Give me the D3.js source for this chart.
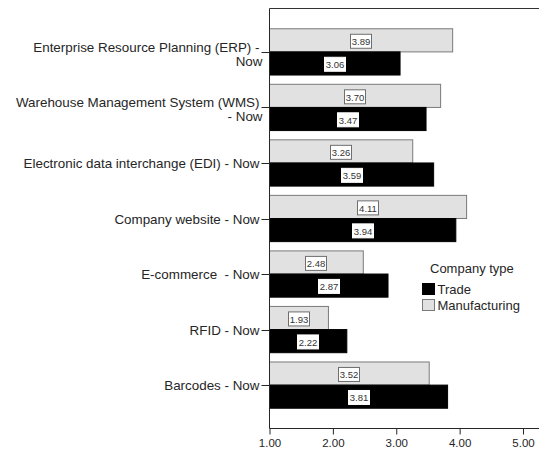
<!DOCTYPE html>
<html>
<head>
<meta charset="utf-8">
<script src="https://cdn.jsdelivr.net/npm/d3@7"></script>
<style>
  html, body { margin: 0; padding: 0; background: #fff; }
  svg { display: block; font-family: "Liberation Sans", Arial, sans-serif; }
  text { white-space: pre; }
</style>
</head>
<body>
<svg id="chart" width="539" height="450"></svg>
<script>
// Mean adoption score per technology, by company type
const categories = [
  ["Enterprise Resource Planning (ERP) -", "Now"],
  ["Warehouse Management System (WMS)", "- Now"],
  ["Electronic data interchange (EDI) - Now"],
  ["Company website - Now"],
  ["E-commerce  - Now"],
  ["RFID - Now"],
  ["Barcodes - Now"]
];
const seriesNames = ["Manufacturing", "Trade"];
const manufacturing = [3.89, 3.70, 3.26, 4.11, 2.48, 1.93, 3.52];
const trade = [3.06, 3.47, 3.59, 3.94, 2.87, 2.22, 3.81];
const xTicks = [1, 2, 3, 4, 5];
const legendOrder = ["Trade", "Manufacturing"];

const fills = { Trade: "#000000", Manufacturing: "#e1e1e1" };
const strokes = { Trade: "#000000", Manufacturing: "#7a7a7a" };
const ink = "#262626";

const svg = d3.select("#chart");
const axisX0 = 269.5;
const plotTop = 8.5, plotBottom = 428.5;

const x = d3.scaleLinear().domain([1, 5]).range([axisX0, 523]);
const y = d3.scaleBand()
  .domain(d3.range(categories.length))
  .range([plotTop, plotBottom])
  .paddingInner(0.167)
  .paddingOuter(0.365);
const ySub = d3.scaleBand().domain(seriesNames).range([0, y.bandwidth()]);

const rows = categories.map((c, i) => ({
  i, label: c,
  values: [
    { series: "Manufacturing", v: manufacturing[i] },
    { series: "Trade", v: trade[i] }
  ]
}));

// top frame line (runs off to the right)
svg.append("line")
  .attr("x1", axisX0).attr("x2", 539)
  .attr("y1", plotTop).attr("y2", plotTop)
  .attr("stroke", "#333").attr("stroke-width", 1);

// bars
const groups = svg.append("g").selectAll("g").data(rows).join("g")
  .attr("transform", d => `translate(0,${y(d.i)})`);

groups.selectAll("rect").data(d => d.values).join("rect")
  .attr("x", x(1))
  .attr("y", d => ySub(d.series))
  .attr("width", d => x(d.v) - x(1))
  .attr("height", ySub.bandwidth())
  .attr("fill", d => fills[d.series])
  .attr("stroke", d => strokes[d.series])
  .attr("stroke-width", 1);

// value labels in boxes
const lab = groups.selectAll("g.lab").data(d => d.values).join("g")
  .attr("class", "lab")
  .attr("transform", d => `translate(${Math.round((x(1) + x(d.v)) / 2)},${Math.round(ySub(d.series) + ySub.bandwidth() / 2 + 1)})`);
lab.append("rect")
  .attr("x", -10.5).attr("y", -7.5).attr("width", 21).attr("height", 14)
  .attr("fill", "#fff")
  .attr("stroke", d => d.series === "Manufacturing" ? "#6e6e6e" : "#fff")
  .attr("stroke-width", 1);
lab.append("text")
  .attr("text-anchor", "middle")
  .attr("dy", "0.35em")
  .attr("font-size", 9.5)
  .attr("fill", "#333")
  .text(d => d.v.toFixed(2));

// y axis
const yAxis = svg.append("g").attr("transform", `translate(${axisX0},0)`);
yAxis.append("line")
  .attr("x1", 0).attr("x2", 0).attr("y1", plotTop).attr("y2", plotBottom)
  .attr("stroke", ink);
const yc = d => Math.round(y(d.i) + y.bandwidth() / 2) + 0.5;
yAxis.selectAll("line.tick").data(rows).join("line")
  .attr("class", "tick")
  .attr("x1", -8).attr("x2", 0)
  .attr("y1", yc).attr("y2", yc)
  .attr("stroke", ink);
const yl = yAxis.selectAll("text").data(rows).join("text")
  .attr("text-anchor", "end")
  .attr("font-size", 13.4)
  .attr("fill", ink)
  .attr("y", d => d.label.length > 1 ? yc(d) - 0.5 : yc(d) + 4.5);
yl.selectAll("tspan").data(d => d.label).join("tspan")
  .attr("x", (t, j) => j === 0 ? -10 : -7)
  .attr("dy", (t, j) => j === 0 ? 0 : 14)
  .text(t => t);

// x axis
const xAxis = svg.append("g").attr("transform", `translate(0,${plotBottom})`);
xAxis.append("line")
  .attr("x1", axisX0).attr("x2", 539)
  .attr("stroke", ink);
xAxis.call(g => {
  const ax = d3.axisBottom(x).tickValues(xTicks).tickSize(6).tickSizeOuter(0)
    .tickFormat(d3.format(".2f"));
  const sub = g.append("g").call(ax);
  sub.select(".domain").remove();
  sub.selectAll(".tick line").attr("stroke", ink);
  sub.selectAll(".tick text")
    .attr("font-size", 11.5)
    .attr("font-family", "Liberation Sans, Arial, sans-serif")
    .attr("fill", ink)
    .attr("y", 10);
});

// legend
const legend = svg.append("g").attr("transform", "translate(422,0)");
legend.append("text")
  .attr("x", 8).attr("y", 273)
  .attr("font-size", 13).attr("fill", ink)
  .text("Company type");
const li = legend.selectAll("g.item").data(legendOrder).join("g")
  .attr("class", "item")
  .attr("transform", (d, i) => `translate(0,${283 + i * 16})`);
li.append("rect")
  .attr("x", 0.5).attr("y", 0.5).attr("width", 12).attr("height", 11)
  .attr("fill", d => fills[d])
  .attr("stroke", d => d === "Trade" ? "#000" : "#7a7a7a");
li.append("text")
  .attr("x", 15.5).attr("y", 6.5).attr("dy", "0.36em")
  .attr("font-size", 13).attr("fill", ink)
  .text(d => d);
</script>
</body>
</html>
